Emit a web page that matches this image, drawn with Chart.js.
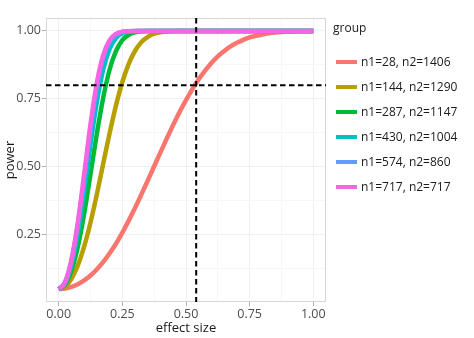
<!DOCTYPE html>
<html>
<head>
<meta charset="utf-8">
<script src="https://cdn.jsdelivr.net/npm/chart.js@4.4.1/dist/chart.umd.min.js"></script>
<style>
  html, body { margin: 0; padding: 0; background: #fff; }
  #wrap { position: relative; width: 474px; height: 338px; font-family: "Open Sans", sans-serif; }
  #legend { position: absolute; left: 333px; top: 0; color: #1a1a1a; font-size: 12px; }
  #legend .title { position: absolute; top: 19px; left: 0; white-space: nowrap; }
  #legend .item { position: absolute; left: 3px; white-space: nowrap; height: 18px; line-height: 18px; }
  #legend .key { display: inline-block; width: 21px; height: 4px; vertical-align: middle; margin-right: 4px; position: relative; top: -1px; }
</style>
</head>
<body>
<div id="wrap">
  <canvas id="powerChart" width="474" height="338"></canvas>
  <div id="legend"></div>
</div>
<script>
// effect size grid and power per group
const effectSize = [0.000, 0.025, 0.050, 0.075, 0.100, 0.125, 0.150, 0.175, 0.200, 0.225,
    0.250, 0.275, 0.300, 0.325, 0.350, 0.375, 0.400, 0.425, 0.450, 0.475,
    0.500, 0.525, 0.550, 0.575, 0.600, 0.625, 0.650, 0.675, 0.700, 0.725,
    0.750, 0.775, 0.800, 0.825, 0.850, 0.875, 0.900, 0.925, 0.950, 0.975, 1.000];

const groups = ['n1=28, n2=1406', 'n1=144, n2=1290', 'n1=287, n2=1147',
    'n1=430, n2=1004', 'n1=574, n2=860', 'n1=717, n2=717'];

const colors = ['#F8766D', '#B79F00', '#00BA38', '#00BFC4', '#619CFF', '#F564E3'];

const power28 = [0.050, 0.052, 0.058, 0.068, 0.082, 0.100, 0.123, 0.150, 0.182, 0.217,
    0.258, 0.302, 0.349, 0.399, 0.450, 0.502, 0.554, 0.605, 0.655, 0.702,
    0.745, 0.786, 0.822, 0.854, 0.882, 0.906, 0.926, 0.943, 0.956, 0.967,
    0.976, 0.982, 0.987, 0.991, 0.994, 0.996, 0.997, 0.998, 0.999, 0.999, 1.000];
const power144 = [0.050, 0.059, 0.088, 0.137, 0.207, 0.296, 0.400, 0.513, 0.624, 0.726,
    0.812, 0.879, 0.927, 0.959, 0.978, 0.990, 0.995, 0.998, 0.999, 1.000,
    1.000, 1.000, 1.000, 1.000, 1.000, 1.000, 1.000, 1.000, 1.000, 1.000,
    1.000, 1.000, 1.000, 1.000, 1.000, 1.000, 1.000, 1.000, 1.000, 1.000, 1.000];
const power287 = [0.050, 0.067, 0.118, 0.206, 0.328, 0.474, 0.623, 0.755, 0.858, 0.926,
    0.966, 0.986, 0.995, 0.999, 1.000, 1.000, 1.000, 1.000, 1.000, 1.000,
    1.000, 1.000, 1.000, 1.000, 1.000, 1.000, 1.000, 1.000, 1.000, 1.000,
    1.000, 1.000, 1.000, 1.000, 1.000, 1.000, 1.000, 1.000, 1.000, 1.000, 1.000];
const power430 = [0.050, 0.072, 0.140, 0.256, 0.411, 0.583, 0.740, 0.859, 0.934, 0.974,
    0.991, 0.998, 0.999, 1.000, 1.000, 1.000, 1.000, 1.000, 1.000, 1.000,
    1.000, 1.000, 1.000, 1.000, 1.000, 1.000, 1.000, 1.000, 1.000, 1.000,
    1.000, 1.000, 1.000, 1.000, 1.000, 1.000, 1.000, 1.000, 1.000, 1.000, 1.000];
const power574 = [0.050, 0.075, 0.153, 0.286, 0.458, 0.640, 0.795, 0.901, 0.960, 0.987,
    0.996, 0.999, 1.000, 1.000, 1.000, 1.000, 1.000, 1.000, 1.000, 1.000,
    1.000, 1.000, 1.000, 1.000, 1.000, 1.000, 1.000, 1.000, 1.000, 1.000,
    1.000, 1.000, 1.000, 1.000, 1.000, 1.000, 1.000, 1.000, 1.000, 1.000, 1.000];
const power717 = [0.050, 0.076, 0.158, 0.295, 0.473, 0.658, 0.810, 0.912, 0.966, 0.989,
    0.997, 0.999, 1.000, 1.000, 1.000, 1.000, 1.000, 1.000, 1.000, 1.000,
    1.000, 1.000, 1.000, 1.000, 1.000, 1.000, 1.000, 1.000, 1.000, 1.000,
    1.000, 1.000, 1.000, 1.000, 1.000, 1.000, 1.000, 1.000, 1.000, 1.000, 1.000];

const seriesPower = [power28, power144, power287, power430, power574, power717];

const xTicks = [0, 0.25, 0.5, 0.75, 1];
const xMinor = [0.125, 0.375, 0.625, 0.875];
const yTicks = [0.25, 0.5, 0.75, 1];
const yMinor = [0.125, 0.375, 0.625, 0.875];

const refEffect = 0.54;
const refPower = 0.8;

const font = '"Open Sans", sans-serif';

const withMinor = (major, minor) => (scale) => {
    const all = major.map(v => ({ value: v, major: true }))
        .concat(minor.map(v => ({ value: v, major: false })));
    all.sort((a, b) => a.value - b.value);
    scale.ticks = all;
};

// panel border + dashed reference lines
const panelPlugin = {
    id: 'panel',
    beforeDatasetsDraw(chart) {
        const { ctx, chartArea: a } = chart;
        ctx.save();
        ctx.strokeStyle = '#d6d6d6';
        ctx.lineWidth = 1;
        ctx.strokeRect(a.left + 0.5, a.top + 0.5, a.right - a.left - 1, a.bottom - a.top - 1);
        ctx.restore();
    },
    afterDatasetsDraw(chart) {
        const { ctx, chartArea: a, scales } = chart;
        const px = scales.x.getPixelForValue(refEffect);
        const py = scales.y.getPixelForValue(refPower);
        ctx.save();
        ctx.strokeStyle = '#000';
        ctx.lineWidth = 2;
        ctx.setLineDash([5.5, 3.5]);
        ctx.beginPath();
        ctx.moveTo(a.left, py);
        ctx.lineTo(a.right, py);
        ctx.moveTo(px, a.top);
        ctx.lineTo(px, a.bottom);
        ctx.stroke();
        ctx.restore();
    }
};

const datasets = groups.map((g, i) => ({
    label: g,
    data: effectSize.map((x, j) => ({ x: x, y: seriesPower[i][j] })),
    borderColor: colors[i],
    backgroundColor: colors[i],
    borderWidth: 4.5,
    pointRadius: 0,
    cubicInterpolationMode: 'monotone',
    borderCapStyle: 'butt',
    order: groups.length - i
}));

new Chart(document.getElementById('powerChart'), {
    type: 'line',
    data: { datasets: datasets },
    options: {
        responsive: false,
        animation: false,
        events: [],
        layout: { padding: { left: 0, right: 148, top: 18, bottom: 0 } },
        plugins: { legend: { display: false }, tooltip: { enabled: false } },
        scales: {
            x: {
                type: 'linear',
                min: -0.05,
                max: 1.05,
                afterBuildTicks: withMinor(xTicks, xMinor),
                afterFit: (scale) => { scale.height = 36; },
                ticks: {
                    autoSkip: false,
                    maxRotation: 0,
                    padding: 1,
                    color: '#4d4d4d',
                    font: { family: font, size: 12.5 },
                    callback: (v) => xTicks.includes(v) ? v.toFixed(2) : ''
                },
                grid: {
                    color: (c) => c.tick && c.tick.major ? '#f0f0f0' : '#f7f7f7',
                    tickColor: (c) => c.tick && c.tick.major ? '#b3b3b3' : 'rgba(0,0,0,0)',
                    tickLength: 4
                },
                border: { display: false },
                title: {
                    display: true,
                    text: 'effect size',
                    color: '#1a1a1a',
                    font: { family: font, size: 13 },
                    padding: { top: 0, bottom: 2 }
                }
            },
            y: {
                type: 'linear',
                min: 0.0025,
                max: 1.0475,
                afterBuildTicks: withMinor(yTicks, yMinor),
                afterFit: (scale) => { scale.width = 46; },
                ticks: {
                    autoSkip: false,
                    padding: 1,
                    color: '#4d4d4d',
                    font: { family: font, size: 12.5 },
                    callback: (v) => yTicks.includes(v) ? v.toFixed(2) : ''
                },
                grid: {
                    color: (c) => c.tick && c.tick.major ? '#f0f0f0' : '#f7f7f7',
                    tickColor: (c) => c.tick && c.tick.major ? '#b3b3b3' : 'rgba(0,0,0,0)',
                    tickLength: 4
                },
                border: { display: false },
                title: {
                    display: true,
                    text: 'power',
                    color: '#1a1a1a',
                    font: { family: font, size: 13 },
                    padding: { top: 2, bottom: 0 }
                }
            }
        }
    },
    plugins: [panelPlugin]
});

// legend
const legend = document.getElementById('legend');
legend.innerHTML = '<div class="title">group</div>' + groups.map((g, i) =>
    `<div class="item" style="top:${53 + 25 * i}px"><span class="key" style="background:${colors[i]}"></span>${g}</div>`
).join('');
</script>
</body>
</html>
